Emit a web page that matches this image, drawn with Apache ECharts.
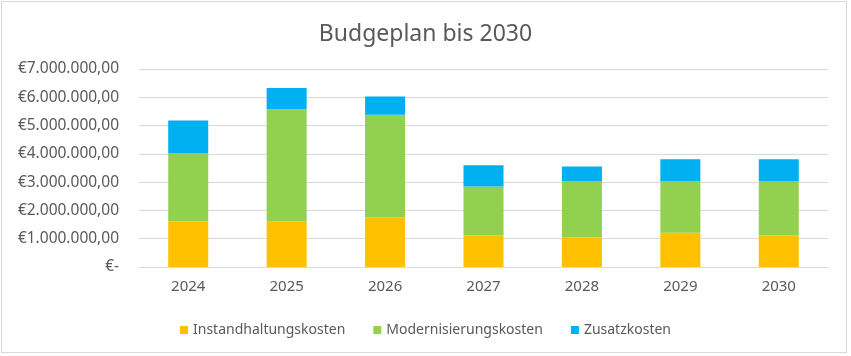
<!DOCTYPE html>
<html><head><meta charset="utf-8">
<script src="https://cdn.jsdelivr.net/npm/echarts@6/dist/echarts.min.js"></script>
<style>html,body{margin:0;padding:0;background:#fff}
#c{position:absolute;left:0;top:0;width:851px;height:356px}
#f{position:absolute;left:1px;top:1px;width:846px;height:352px;border:1px solid #D9D9D9;box-sizing:border-box;pointer-events:none}</style>
</head><body><div id="c"></div><div id="f"></div>
<script>
const categories = ['2024','2025','2026','2027','2028','2029','2030'];
const instandhaltung = [1610000,1610000,1760000,1110000,1050000,1210000,1110000];
const modernisierung = [2420000,3970000,3620000,1740000,1990000,1830000,1930000];
const zusatz = [1150000,750000,650000,750000,510000,770000,770000];
const yTicks = [0,1000000,2000000,3000000,4000000,5000000,6000000,7000000];

function fmt(v){
  if (v === 0) return '€-';
  const s = Math.round(v).toString().replace(/\B(?=(\d{3})+(?!\d))/g,'.');
  return '€' + s + ',00';
}
const font = 'Noto Sans';
const chart = echarts.init(document.getElementById('c'));
chart.setOption({
  animation:false,
  title:{text:'Budgeplan bis 2030',left:'center',top:18,textStyle:{fontFamily:font,fontSize:23,fontWeight:'normal',color:'#595959'}},
  legend:{top:318,left:'center',itemWidth:8,itemHeight:8,itemGap:28,icon:'rect',
    textStyle:{fontFamily:font,fontSize:14,color:'#595959'}},
  grid:{left:139,right:23,top:69,bottom:89},
  xAxis:{type:'category',data:categories,
    axisLine:{lineStyle:{color:'#D9D9D9'}},axisTick:{show:false},
    axisLabel:{fontFamily:font,fontSize:15,color:'#595959',margin:12}},
  yAxis:{type:'value',min:yTicks[0],max:yTicks[yTicks.length-1],interval:1000000,
    axisLine:{show:false},axisTick:{show:false},
    splitLine:{lineStyle:{color:'#D9D9D9',width:1}},
    axisLabel:{fontFamily:font,fontSize:15.5,color:'#595959',margin:20,formatter:fmt}},
  series:[
    {name:'Instandhaltungskosten',type:'bar',stack:'a',data:instandhaltung,barWidth:40,itemStyle:{color:'#FFC000'}},
    {name:'Modernisierungskosten',type:'bar',stack:'a',data:modernisierung,barWidth:40,itemStyle:{color:'#92D050'}},
    {name:'Zusatzkosten',type:'bar',stack:'a',data:zusatz,barWidth:40,itemStyle:{color:'#00B0F0'}}
  ]
});
</script></body></html>
